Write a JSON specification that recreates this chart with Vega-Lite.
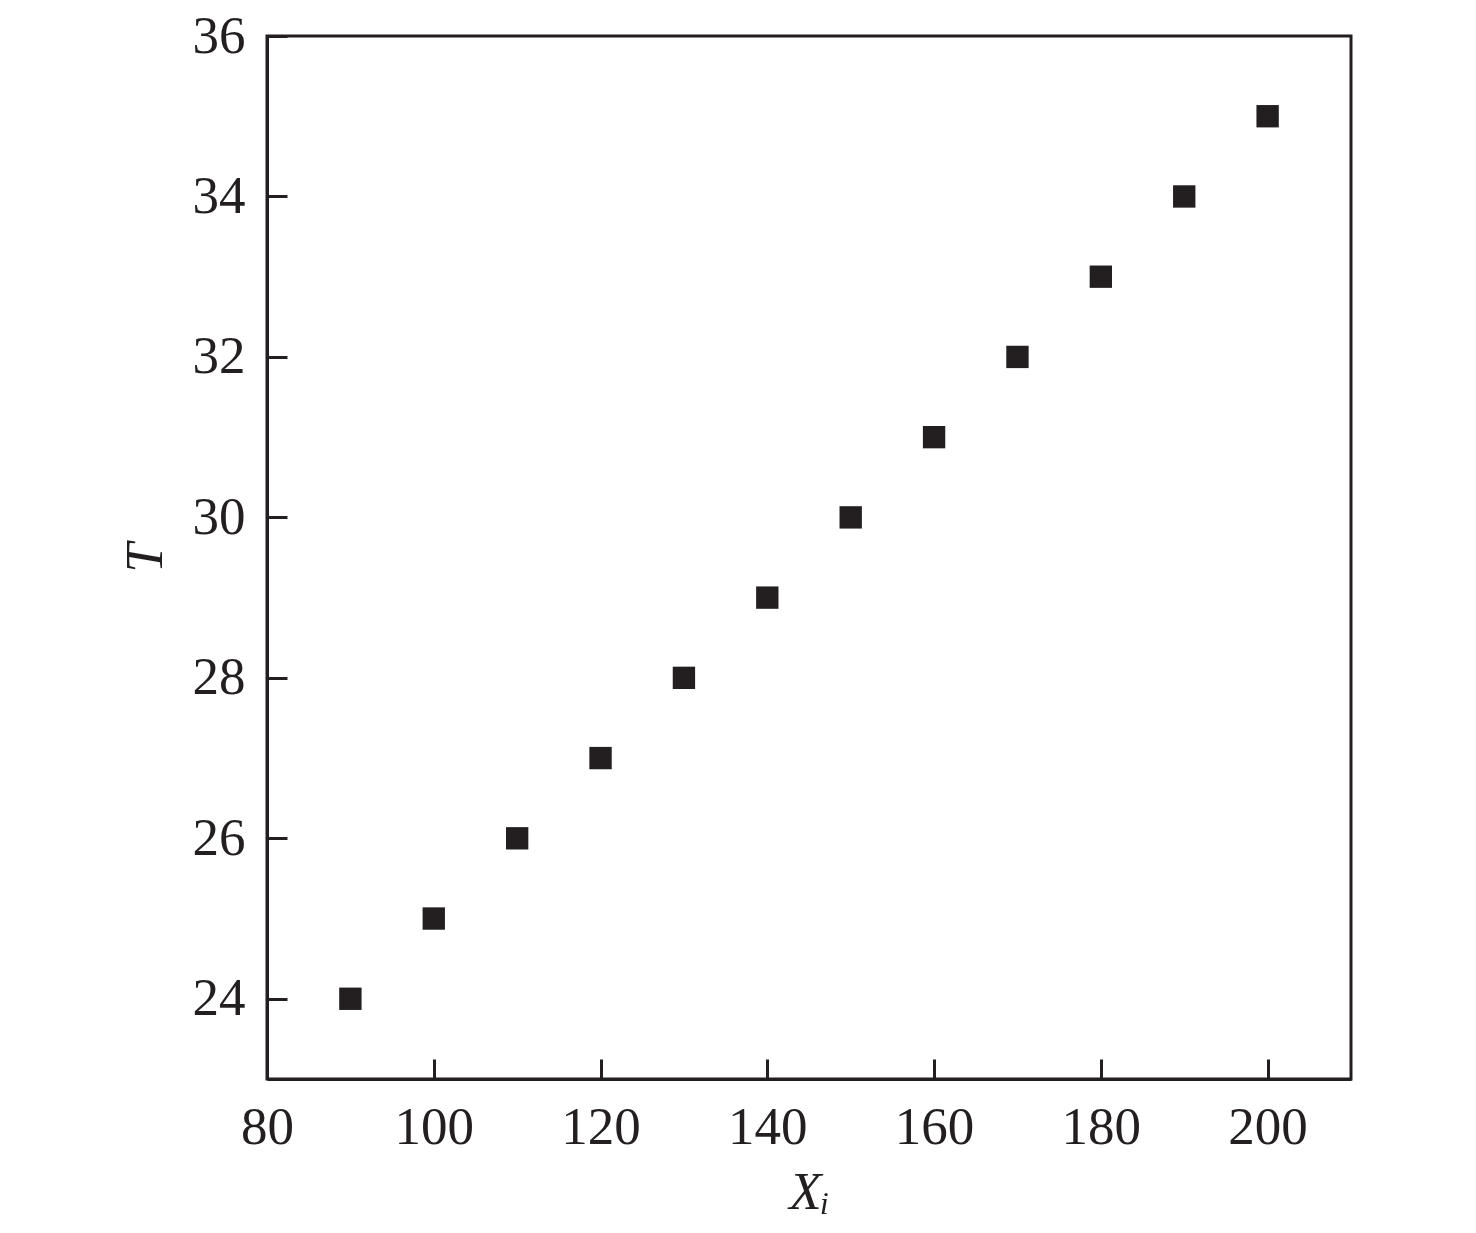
{
  "$schema": "https://vega.github.io/schema/vega-lite/v6.json",
  "autosize": "none",
  "padding": {"left": 267, "top": 36, "right": 125, "bottom": 154},
  "width": 1084,
  "height": 1043,
  "background": "white",
  "config": {
    "view": {"stroke": "#231f20", "strokeWidth": 3},
    "font": "Liberation Serif",
    "axis": {
      "grid": false,
      "domainColor": "#231f20",
      "domainWidth": 3,
      "tickColor": "#231f20",
      "tickWidth": 3,
      "tickSize": -20,
      "labelFlush": false,
      "labelFont": "Liberation Serif",
      "labelFontSize": 53,
      "labelColor": "#231f20",
      "titleFont": "Liberation Serif",
      "titleFontSize": 53,
      "titleFontStyle": "italic",
      "titleFontWeight": "normal",
      "titleColor": "#231f20"
    }
  },
  "data": {
    "values": [
      {"Xi": 90, "T": 24},
      {"Xi": 100, "T": 25},
      {"Xi": 110, "T": 26},
      {"Xi": 120, "T": 27},
      {"Xi": 130, "T": 28},
      {"Xi": 140, "T": 29},
      {"Xi": 150, "T": 30},
      {"Xi": 160, "T": 31},
      {"Xi": 170, "T": 32},
      {"Xi": 180, "T": 33},
      {"Xi": 190, "T": 34},
      {"Xi": 200, "T": 35}
    ]
  },
  "mark": {"type": "square", "size": 500, "filled": true, "color": "#231f20", "opacity": 1},
  "encoding": {
    "x": {
      "field": "Xi",
      "type": "quantitative",
      "title": "Xᵢ",
      "scale": {"domain": [80, 210], "nice": false, "zero": false},
      "axis": {"values": [80, 100, 120, 140, 160, 180, 200], "labelPadding": 42, "titlePadding": 12}
    },
    "y": {
      "field": "T",
      "type": "quantitative",
      "title": "T",
      "scale": {"domain": [23, 36], "nice": false, "zero": false},
      "axis": {"values": [24, 26, 28, 30, 32, 34, 36], "labelPadding": 42, "titlePadding": 20}
    }
  }
}
